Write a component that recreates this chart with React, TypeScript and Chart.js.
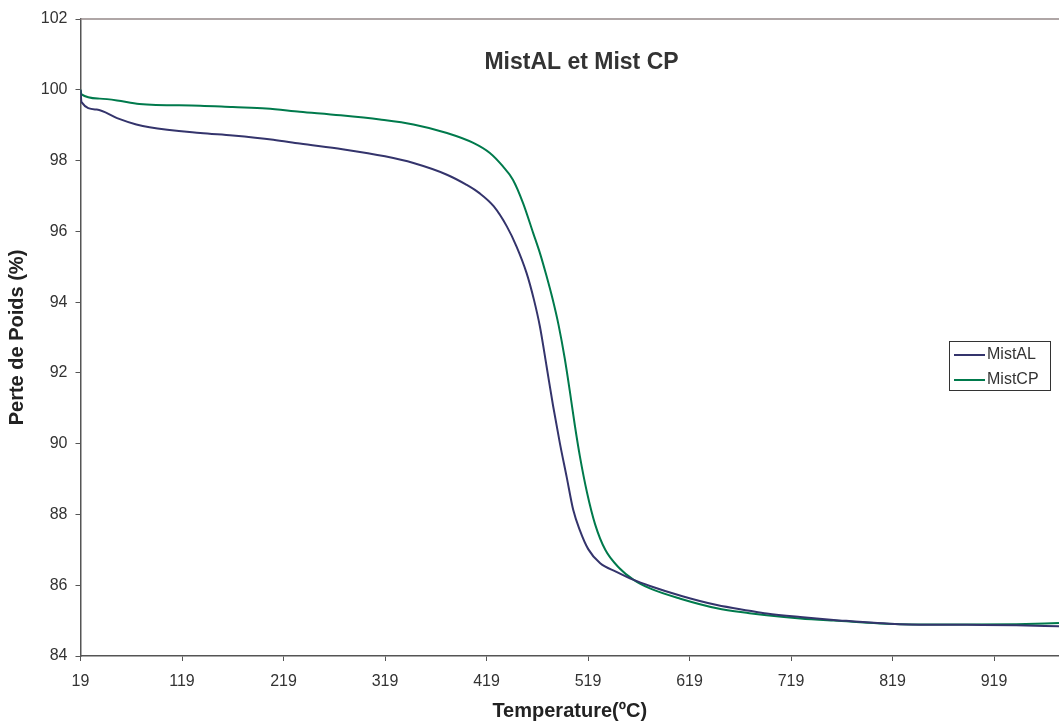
import React, { useEffect, useRef } from "react";
import { Chart, registerables } from "chart.js";

Chart.register(...registerables);

const FONT = '"Liberation Sans", Arial, Helvetica, sans-serif';

const CHART_TITLE = "MistAL et Mist CP";
const X_TITLE = "Temperature(ºC)";
const Y_TITLE = "Perte de Poids (%)";
const SERIES_NAMES = ["MistAL", "MistCP"];

const xTickValues = [19, 119, 219, 319, 419, 519, 619, 719, 819, 919];

const alTemp = [19, 20, 35, 55, 74, 87, 137, 169, 209, 235, 277, 319, 347, 380, 399, 412, 426, 439, 448.6, 458.5, 465.7, 471.6, 478.2, 484.7, 491.3, 497.9, 504.4, 511, 519.2, 531, 547, 564, 580, 612, 646, 678, 695, 728, 761, 826, 892, 941, 983];
const alValue = [100.0, 99.65, 99.44, 99.2, 99.02, 98.94, 98.78, 98.71, 98.59, 98.48, 98.32, 98.12, 97.93, 97.6, 97.32, 97.08, 96.71, 96.14, 95.57, 94.82, 94.07, 93.31, 92.18, 91.05, 90.01, 89.07, 88.13, 87.55, 87.02, 86.62, 86.38, 86.15, 85.98, 85.69, 85.44, 85.28, 85.2, 85.1, 85.02, 84.9, 84.88, 84.87, 84.84];

const cpTemp = [19, 20, 38, 55, 77, 137, 169, 202, 235, 275, 314, 347, 380, 406, 422, 435, 445, 455, 465, 472, 478, 484, 490, 496, 501, 506, 511, 518, 526, 536, 550, 564, 580, 610, 646, 678, 695, 728, 761, 826, 892, 941, 983];
const cpValue = [100.0, 99.87, 99.75, 99.7, 99.6, 99.55, 99.51, 99.47, 99.38, 99.28, 99.16, 99.02, 98.78, 98.5, 98.22, 97.84, 97.46, 96.8, 95.95, 95.35, 94.75, 94.1, 93.35, 92.42, 91.5, 90.52, 89.64, 88.62, 87.72, 87.0, 86.48, 86.15, 85.91, 85.62, 85.35, 85.21, 85.15, 85.06, 85.0, 84.9, 84.89, 84.9, 84.93];

const COLORS = ["#34346c", "#007a4c"];

const decorPlugin = {
  id: "decor",
  afterDraw(chart: any) {
    const { ctx, chartArea } = chart;
    ctx.save();
    // top frame line
    ctx.strokeStyle = "#948888";
    ctx.lineWidth = 1.5;
    ctx.beginPath();
    ctx.moveTo(chartArea.left, chartArea.top);
    ctx.lineTo(chartArea.right, chartArea.top);
    ctx.stroke();

    // chart title
    ctx.fillStyle = "#333";
    ctx.font = `bold 23px ${FONT}`;
    ctx.textAlign = "center";
    ctx.textBaseline = "middle";
    ctx.fillText(CHART_TITLE, 581.5, 63);

    // legend
    const lx = 949.5, ly = 341.5, lw = 101, lh = 49;
    ctx.fillStyle = "#fff";
    ctx.fillRect(lx, ly, lw, lh);
    ctx.strokeStyle = "#333";
    ctx.lineWidth = 1;
    ctx.strokeRect(lx, ly, lw, lh);
    ctx.font = `16px ${FONT}`;
    ctx.textAlign = "left";
    chart.data.datasets.forEach((ds: any, i: number) => {
      const yy = 355 + i * 25;
      ctx.strokeStyle = ds.borderColor;
      ctx.lineWidth = 2;
      ctx.beginPath();
      ctx.moveTo(954, yy);
      ctx.lineTo(985, yy);
      ctx.stroke();
      ctx.fillStyle = "#333";
      ctx.fillText(ds.label, 987, yy);
    });
    ctx.restore();
  },
};

export default function App() {
  const ref = useRef<HTMLCanvasElement | null>(null);

  useEffect(() => {
    document.body.style.margin = "0";
    const canvas = ref.current;
    if (!canvas) return;
    const chart = new Chart(canvas, {
      type: "line",
      data: {
        datasets: [
          {
            label: SERIES_NAMES[0],
            data: alTemp.map((t, i) => ({ x: t, y: alValue[i] })),
            borderColor: COLORS[0],
            backgroundColor: COLORS[0],
            borderWidth: 2,
            pointRadius: 0,
            cubicInterpolationMode: "monotone",
          },
          {
            label: SERIES_NAMES[1],
            data: cpTemp.map((t, i) => ({ x: t, y: cpValue[i] })),
            borderColor: COLORS[1],
            backgroundColor: COLORS[1],
            borderWidth: 2,
            pointRadius: 0,
            cubicInterpolationMode: "monotone",
          },
        ],
      },
      options: {
        responsive: false,
        maintainAspectRatio: false,
        animation: false,
        devicePixelRatio: 1,
        layout: { padding: { top: 19, right: 0, bottom: 0, left: 0 } },
        plugins: {
          legend: { display: false },
          tooltip: { enabled: false },
          title: { display: false },
        },
        scales: {
          x: {
            type: "linear",
            min: 19,
            max: 983,
            afterBuildTicks: (s: any) => {
              s.ticks = xTickValues.map((v) => ({ value: v }));
            },
            afterFit: (s: any) => {
              s.height = 70;
            },
            ticks: {
              autoSkip: false,
              maxRotation: 0,
              color: "#333",
              padding: 11,
              font: { size: 16, family: FONT },
              callback: (v: any) => String(v),
            },
            grid: { drawOnChartArea: false, tickLength: 5, color: "#555" },
            border: { color: "#555", width: 1.5 },
            title: {
              display: true,
              text: X_TITLE,
              color: "#222",
              font: { size: 20, weight: "bold", family: FONT },
              padding: { top: 0, bottom: 3 },
            },
          },
          y: {
            min: 84,
            max: 102,
            afterFit: (s: any) => {
              s.width = 80.5;
            },
            ticks: {
              stepSize: 2,
              color: "#333",
              padding: 8,
              font: { size: 16, family: FONT },
            },
            grid: { drawOnChartArea: false, tickLength: 5, color: "#555" },
            border: { color: "#555", width: 1.5 },
            title: {
              display: true,
              text: Y_TITLE,
              color: "#222",
              font: { size: 20, weight: "bold", family: FONT },
              padding: { top: 5, bottom: 0 },
            },
          },
        },
      },
      plugins: [decorPlugin],
    } as any);
    return () => chart.destroy();
  }, []);

  return (
    <canvas
      ref={ref}
      width={1059}
      height={726}
      style={{ display: "block", position: "fixed", left: 0, top: 0 }}
    />
  );
}
